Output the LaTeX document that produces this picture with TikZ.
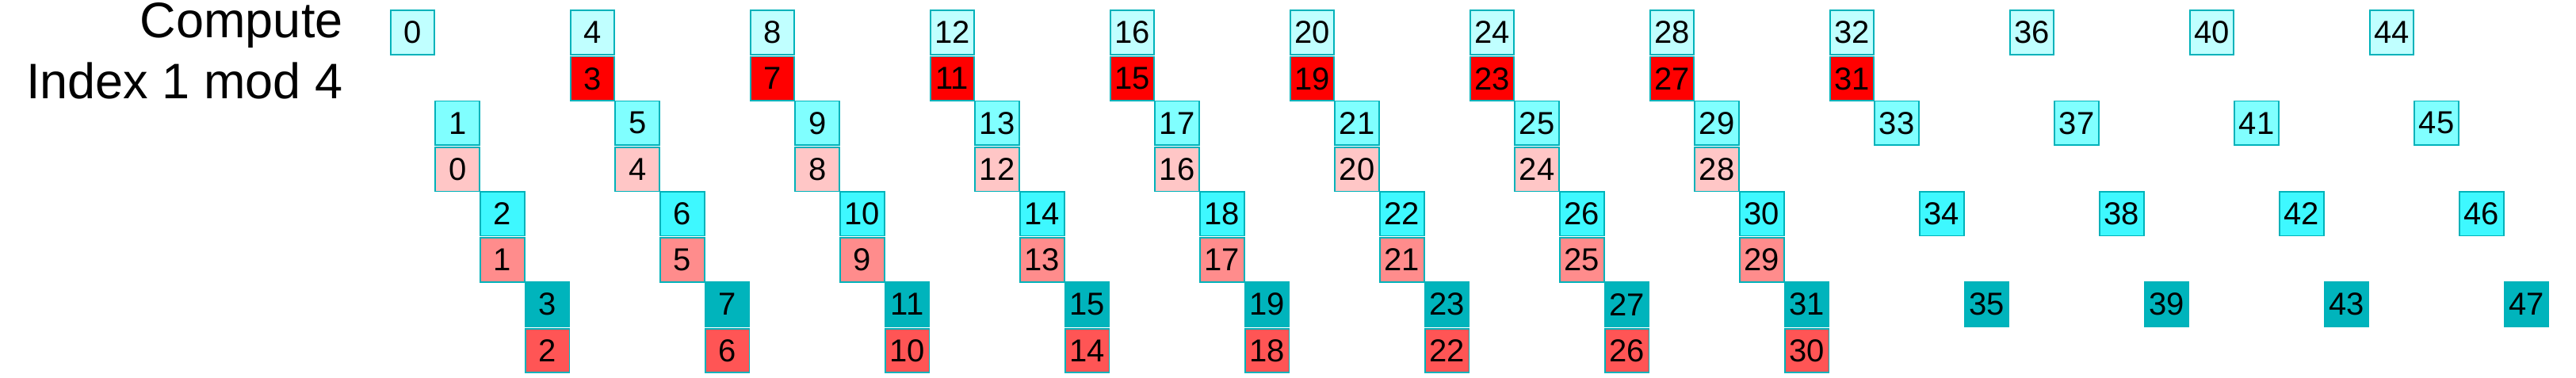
\documentclass[tikz,border=0pt]{standalone}
\usepackage{fontspec}
\setmainfont{Liberation Sans}
\definecolor{rimteal}{HTML}{00B2BA}
\definecolor{idx0}{HTML}{C0FFFF}
\definecolor{idx1}{HTML}{80FFFF}
\definecolor{idx2}{HTML}{3EF8FF}
\definecolor{idx3}{HTML}{00B4BC}
\definecolor{hot0}{HTML}{FF0000}
\definecolor{hot1}{HTML}{FFC6C6}
\definecolor{hot2}{HTML}{FF8C8C}
\definecolor{hot3}{HTML}{FF5555}
\tikzset{
  cell/.style={draw=rimteal, line width=0.9pt, minimum width=27.8pt, minimum height=27.8pt,
    inner sep=0pt, font=\fontsize{20}{24}\selectfont},
  caption/.style={anchor=base east, inner sep=0pt, font=\fontsize{31.5}{38}\selectfont}
}
\begin{document}
\begin{tikzpicture}[x=28.375pt, y=-28.6pt]
	\useasboundingbox (0,0) rectangle (57.269,8.339);
	\node[caption] (compute) at (7.63,0.834) {Compute};
	\node[caption] (modfour) at (7.63,2.168) {Index 1 mod 4};
	% index boxes, one row per residue
	\foreach \i in {0,...,47} {
		\pgfmathtruncatemacro{\rem}{mod(\i,4)}
		\node[cell, fill=idx\rem] (cy\i) at ({9.17+\i},{0.715+2*\rem}) {\i};
	}
	% computed values under each index
	\foreach \i in {1,...,32} {
		\pgfmathtruncatemacro{\rem}{mod(\i,4)}
		\pgfmathtruncatemacro{\val}{\i-1}
		\node[cell, fill=hot\rem] (rd\val) at ({9.17+\i},{1.735+2*\rem}) {\val};
	}
\end{tikzpicture}
\end{document}
